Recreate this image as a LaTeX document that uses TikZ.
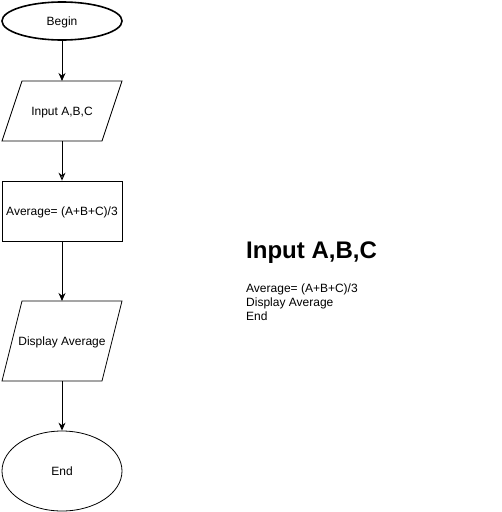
\documentclass[tikz,border=0pt]{standalone}
\usepackage{fontspec}
\setmainfont{Liberation Sans}
\usetikzlibrary{shapes.geometric,arrows.meta}
\begin{document}
\begin{tikzpicture}[x=1pt,y=-1pt,
  txt/.style={font=\fontsize{12}{14}\selectfont,text height=8pt,text depth=0pt},
  box/.style={draw=black,line width=0.8pt},
  flow/.style={draw=black,line width=1pt,-{Stealth[length=8pt,width=7pt]}},
  openflow/.style={draw=black,line width=1pt,-{Stealth[open,length=8pt,width=7pt,fill=white]}}]
\useasboundingbox (0,0) rectangle (502,512);
% start terminal
\node[ellipse,box,line width=1.6pt,minimum width=120pt,minimum height=38pt,inner sep=0pt,txt] (begin) at (62,21) {Begin};
% input
\draw[box] (22,81) -- (122,81) -- (102,141) -- (2,141) -- cycle;
\node[txt,inner sep=0pt] (input) at (62,111) {Input A,B,C};
\coordinate (inTop) at (62,81);
\coordinate (inBot) at (62,141);
% process
\node[box,minimum width=120pt,minimum height=60pt,inner sep=0pt,txt] (avg) at (62,211) {Average= (A+B+C)/3};
% output
\draw[box] (22,301) -- (122,301) -- (102,381) -- (2,381) -- cycle;
\node[txt,inner sep=0pt] (disp) at (62,341) {Display Average};
\coordinate (dTop) at (62,301);
\coordinate (dBot) at (62,381);
% end terminal
\node[ellipse,box,minimum width=120pt,minimum height=80pt,inner sep=0pt,txt] (end) at (62,471) {End};
% connectors
\draw[flow] (begin.south) -- (inTop);
\draw[openflow] (inBot) -- (avg.north);
\draw[flow] (avg.south) -- (dTop);
\draw[flow] (dBot) -- (end.north);
% pseudocode
\node[anchor=base west,inner sep=0pt,font=\bfseries\fontsize{24}{28}\selectfont] (title) at (246,258) {Input A,B,C};
\node[anchor=base west,inner sep=0pt,align=left,font=\fontsize{12}{14}\selectfont] (code) at (246,320) {Average= (A+B+C)/3\\Display Average\\End};
\end{tikzpicture}
\end{document}
